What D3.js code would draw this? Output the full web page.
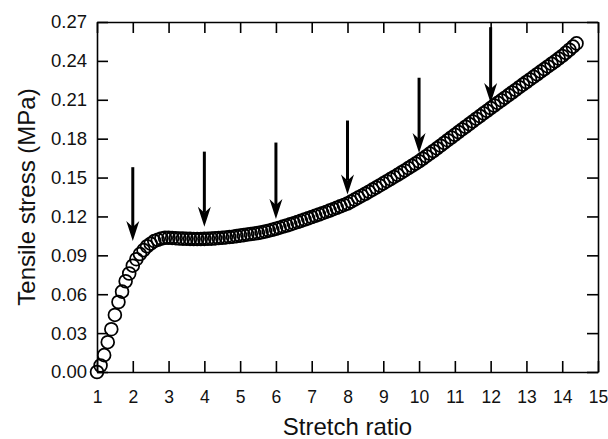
<!DOCTYPE html>
<html><head><meta charset="utf-8">
<script src="https://cdn.jsdelivr.net/npm/d3@7"></script>
<style>body{margin:0;background:#fff}svg{display:block}text{font-family:"Liberation Sans",Arial,sans-serif;fill:#111}</style>
</head><body><svg id="c" width="608" height="439"></svg>
<script>
const stretch = [1.0,1.1,1.2,1.3,1.4,1.5,1.6,1.7,1.8,1.9,2.0,2.1,2.2,2.3,2.4,2.5,2.6,2.7,2.8,2.9,
3.0,3.1,3.2,3.3,3.4,3.5,3.6,3.7,3.8,3.9,4.0,4.1,4.2,4.3,4.4,4.5,4.6,4.7,4.8,4.9,
5.0,5.1,5.2,5.3,5.4,5.5,5.6,5.7,5.8,5.9,6.0,6.1,6.2,6.3,6.4,6.5,6.6,6.7,6.8,6.9,
7.0,7.1,7.2,7.3,7.4,7.5,7.6,7.7,7.8,7.9,8.0,8.1,8.2,8.3,8.4,8.5,8.6,8.7,8.8,8.9,
9.0,9.1,9.2,9.3,9.4,9.5,9.6,9.7,9.8,9.9,10.0,10.1,10.2,10.3,10.4,10.5,10.6,10.7,10.8,10.9,
11.0,11.1,11.2,11.3,11.4,11.5,11.6,11.7,11.8,11.9,12.0,12.1,12.2,12.3,12.4,12.5,12.6,12.7,12.8,12.9,
13.0,13.1,13.2,13.3,13.4,13.5,13.6,13.7,13.8,13.9,14.0,14.1,14.2,14.3,14.4];
const stress = [0.000,0.005,0.013,0.023,0.033,0.044,0.054,0.062,0.070,0.076,0.082,0.087,0.091,0.094,0.097,0.099,0.101,0.102,0.103,0.1035,
0.1035,0.1034,0.1032,0.1030,0.1029,0.1028,0.1027,0.1026,0.1026,0.1026,0.1027,0.1028,0.1029,0.1031,0.1033,0.1035,0.1038,0.1041,0.1044,0.1048,
0.1052,0.1056,0.1060,0.1064,0.1068,0.1072,0.1078,0.1084,0.1090,0.1097,0.1105,0.1113,0.1122,0.1130,0.1139,0.1148,0.1157,0.1166,0.1176,0.1185,
0.1195,0.1205,0.1215,0.1225,0.1235,0.1245,0.1256,0.1267,0.1278,0.1289,0.1300,0.1315,0.1330,0.1345,0.1360,0.1375,0.1391,0.1407,0.1423,0.1439,
0.1455,0.1472,0.1488,0.1505,0.1521,0.1538,0.1555,0.1573,0.1590,0.1608,0.1625,0.1645,0.1665,0.1685,0.1705,0.1725,0.1746,0.1767,0.1788,0.1809,
0.1830,0.1851,0.1871,0.1892,0.1912,0.1933,0.1954,0.1974,0.1995,0.2015,0.2036,0.2056,0.2076,0.2096,0.2116,0.2136,0.2156,0.2176,0.2197,0.2217,
0.2237,0.2257,0.2277,0.2297,0.2317,0.2337,0.2357,0.2377,0.2397,0.2418,0.2438,0.2462,0.2486,0.2510,0.2535];
const arrowX = [2,4,6,8,10,12];
const arrowTop = [0.158,0.170,0.177,0.194,0.227,0.266];
const arrowTip = [0.101,0.112,0.118,0.137,0.169,0.2075];
const xTicks = [1,2,3,4,5,6,7,8,9,10,11,12,13,14,15];
const yTicks = [0,0.03,0.06,0.09,0.12,0.15,0.18,0.21,0.24,0.27];
const xTitle = "Stretch ratio";
const yTitle = "Tensile stress (MPa)";

const W=608,H=439,m={l:97,t:22,r:10,b:67};
const svg=d3.select("#c");
const x=d3.scaleLinear().domain([1,15]).range([m.l,W-m.r]);
const y=d3.scaleLinear().domain([0,0.27]).range([H-m.b,m.t]);
const pts=stretch.map((s,i)=>({s,v:stress[i]}));

svg.append("g").selectAll("circle").data(pts).join("circle")
 .attr("cx",d=>x(d.s)).attr("cy",d=>y(d.v)).attr("r",6.4)
 .attr("fill","none").attr("stroke","#000").attr("stroke-width",1.75);

const tl=11;
const ax=svg.append("g").attr("transform",`translate(0,${y(0)})`)
 .call(d3.axisBottom(x).tickValues(xTicks).tickSizeInner(-tl).tickSizeOuter(0).tickPadding(tl+8).tickFormat(d3.format("d")));
const ay=svg.append("g").attr("transform",`translate(${x(1)},0)`)
 .call(d3.axisLeft(y).tickValues(yTicks).tickSizeInner(-tl).tickSizeOuter(0).tickPadding(10).tickFormat(d3.format(".2f")));
const at=svg.append("g").attr("transform",`translate(0,${y(0.27)})`)
 .call(d3.axisTop(x).tickValues(xTicks).tickSizeInner(-tl).tickSizeOuter(0).tickFormat(""));
const ar=svg.append("g").attr("transform",`translate(${x(15)},0)`)
 .call(d3.axisRight(y).tickValues(yTicks).tickSizeInner(-tl).tickSizeOuter(0).tickFormat(""));
[ax,ay,at,ar].forEach(g=>{g.select(".domain").attr("stroke","#000").attr("stroke-width",1.6);
 g.selectAll(".tick line").attr("stroke","#000").attr("stroke-width",1.6);});
ax.selectAll("text").style("font-size","17.5px").attr("fill","#111");
ay.selectAll("text").style("font-size","18.5px").attr("fill","#111");

// arrows
const ag=svg.append("g");
arrowX.forEach((ax_,i)=>{
  const cx=x(ax_),t=y(arrowTop[i]),tip=y(arrowTip[i]);
  ag.append("line").attr("x1",cx).attr("x2",cx).attr("y1",t).attr("y2",tip-14)
    .attr("stroke","#000").attr("stroke-width",3);
  ag.append("path").attr("d",`M${cx-6.5},${tip-20} L${cx},${tip-14} L${cx+6.5},${tip-20} L${cx},${tip} Z`).attr("fill","#000");
});

svg.append("text").attr("x",(x(1)+x(15))/2).attr("y",435).attr("text-anchor","middle")
 .style("font-size","24px").text(xTitle);
svg.append("text").attr("transform",`translate(35,${(y(0)+y(0.27))/2}) rotate(-90)`).attr("text-anchor","middle")
 .style("font-size","24px").text(yTitle);
</script></body></html>
